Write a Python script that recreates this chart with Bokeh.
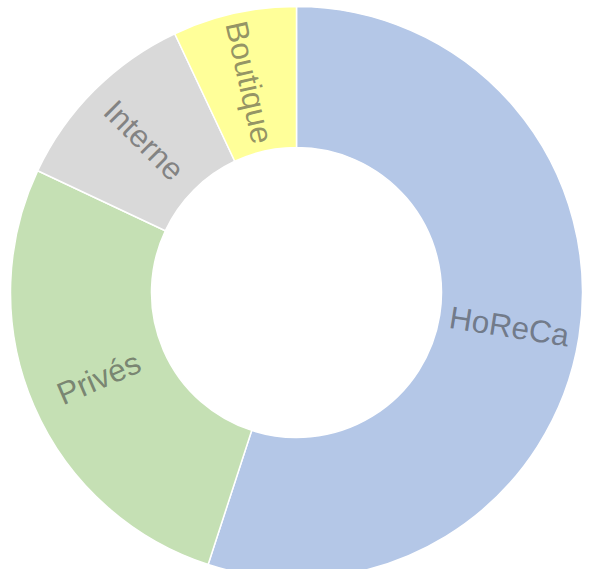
import numpy as np
from bokeh.plotting import figure
from bokeh.models import ColumnDataSource, Range1d
from bokeh.core.properties import value
from bokeh.embed import file_html
from bokeh.resources import INLINE

# data (clockwise from 12 o'clock)
labels = ["HoReCa", "Privés", "Interne", "Boutique"]
values = [55, 27, 11, 7]
colors = ["#B4C7E7", "#C5E0B4", "#D9D9D9", "#FFFF99"]

W, H = 582, 569
cx, cy = 304, 585 - 300   # centre in data units (pixels, y up)
r_in, r_out = 145, 286

vals = np.array(values, dtype=float)
frac = vals / vals.sum()
cum = np.concatenate([[0], np.cumsum(frac)]) * 2 * np.pi
# clockwise from top -> math angles
start = np.pi / 2 - cum[1:]
end = np.pi / 2 - cum[:-1]
mid = (start + end) / 2
r_mid = (r_in + r_out) / 2
lx = cx + r_mid * np.cos(mid)
ly = cy + r_mid * np.sin(mid)
tang = np.where(np.cos(mid) >= 0, mid, mid + np.pi)

src = ColumnDataSource(dict(label=labels, start=start, end=end, color=colors,
                            lx=lx, ly=ly, tang=tang))

p = figure(width=W, height=H, output_backend="svg", toolbar_location=None,
           x_range=Range1d(8, 8 + W), y_range=Range1d(585 - 8 - H, 585 - 8),
           min_border=0, outline_line_color=None, background_fill_color="white")
p.axis.visible = False
p.grid.visible = False

p.annular_wedge(x=cx, y=cy, inner_radius=r_in, outer_radius=r_out,
                start_angle="start", end_angle="end", fill_color="color",
                line_color="white", line_width=1.5, source=src)
p.text(x="lx", y="ly", text="label", angle="tang", source=src,
       text_font=value("Liberation Sans"), text_font_size="31.5px",
       text_color="#383838", text_alpha=0.55,
       text_align="center", text_baseline="middle")

open("out.html", "w").write(file_html(p, INLINE))
